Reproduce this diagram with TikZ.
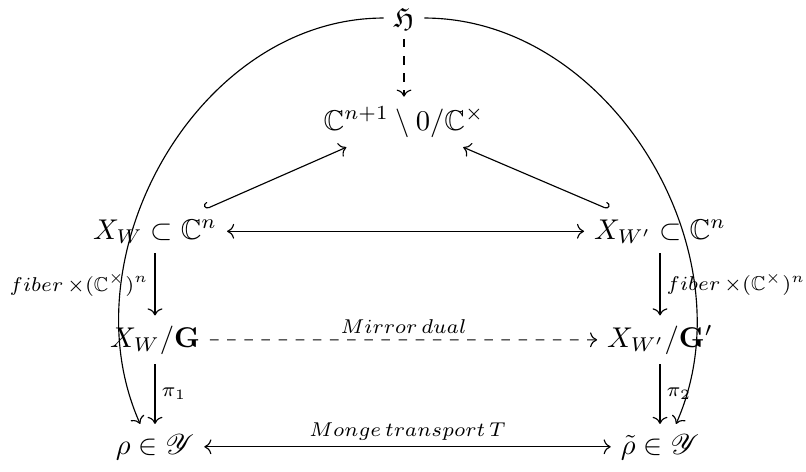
\documentclass[tikz,border=0pt]{standalone}
\usepackage{amssymb}
\usepackage{mathrsfs}
\usetikzlibrary{cd}
\begin{document}
\begin{tikzpicture}[x=0.35pt,y=0.35pt,
  obj/.style={anchor=base, inner sep=0.3333em},
  lab/.style={inner sep=0.5ex},
  arr/.style={-{tikzcd to}},
  darr/.style={{tikzcd to}-{tikzcd to}},
  hookl/.style={{tikzcd left hook}-{tikzcd to}},
  hookr/.style={{tikzcd right hook}-{tikzcd to}}]
\useasboundingbox (0,0) rectangle (806,-471);
% objects
\node[obj] (H)    at (404,-27)  {$\mathfrak{H}$};
\node[obj] (P)    at (404,-130) {$\mathbb{C}^{n+1}\setminus 0/\mathbb{C}^\times$};
\node[obj] (XW)   at (155,-239) {$X_W\subset\mathbb{C}^n$};
\node[obj] (XWp)  at (660,-239) {$X_{W'}\subset\mathbb{C}^n$};
\node[obj] (XG)   at (155,-347) {$X_W/\mathbf{G}$};
\node[obj] (XGp)  at (660,-347) {$X_{W'}/\mathbf{G}'$};
\node[obj] (rho)  at (155,-454) {$\rho\in\mathscr{Y}$};
\node[obj] (rhot) at (660,-454) {$\tilde\rho\in\mathscr{Y}$};
% arrows
\draw[arr, dashed] (H) -- (P);
\draw[hookr] (XW) -- (P);
\draw[hookl] (XWp) -- (P);
\draw[darr] (XW) -- (XWp);
\draw[arr] (XW) -- node[lab, left] {$\scriptstyle fiber\,\times(\mathbb{C}^\times)^n$} (XG);
\draw[arr] (XWp) -- node[lab, right] {$\scriptstyle fiber\,\times(\mathbb{C}^\times)^n$} (XGp);
\draw[arr, dashed] (XG) -- node[lab, above] {$\scriptstyle Mirror\,dual$} (XGp);
\draw[arr] (XG) -- node[lab, right] {$\scriptstyle \pi_1$} (rho);
\draw[arr] (XGp) -- node[lab, right] {$\scriptstyle \pi_2$} (rhot);
\draw[darr] (rho) -- node[lab, above] {$\scriptstyle Monge\,transport\,T$} (rhot);
\draw[arr] (H.west) to[out=180, in=114] (rho.123);
\draw[arr] (H.east) to[out=0, in=66] (rhot.55);
\end{tikzpicture}
\end{document}
